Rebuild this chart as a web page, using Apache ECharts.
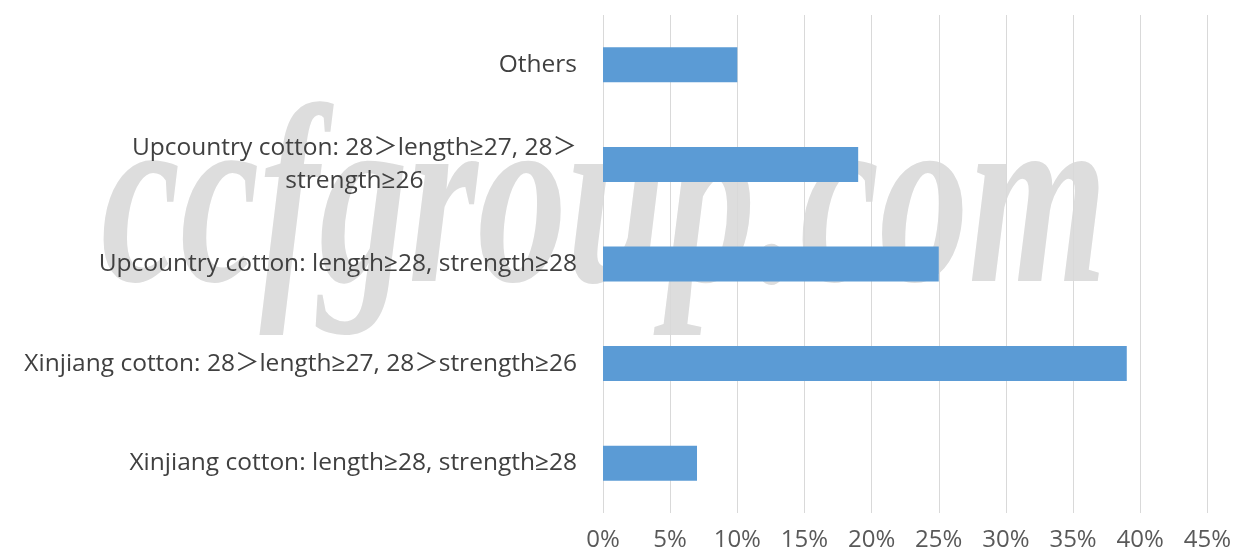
<!DOCTYPE html>
<html><head><meta charset="utf-8">
<script src="https://cdn.jsdelivr.net/npm/echarts@6/dist/echarts.min.js"></script>
<style>html,body{margin:0;padding:0;background:#fff}#c{width:1234px;height:554px}</style>
</head><body><div id="c"></div>
<script>
const categories = [
  "Xinjiang cotton: length≥28, strength≥28",
  "Xinjiang cotton: 28＞length≥27, 28＞strength≥26",
  "Upcountry cotton: length≥28, strength≥28",
  "Upcountry cotton: 28＞length≥27, 28＞\nstrength≥26",
  "Others"
];
const shares = [7, 39, 25, 19, 10];
const tickMax = 45;
const tickStep = 5;

const FONT = "'Open Sans', 'Noto Sans CJK SC', sans-serif";
const chart = echarts.init(document.getElementById('c'));
chart.setOption({
  animation: false,
  backgroundColor: '#fff',
  grid: { left: 603, right: 24, top: 15, bottom: 41, containLabel: false },
  graphic: [{
    type: 'text', z: -10, silent: true,
    left: 101, top: 88, scaleX: 0.7,
    style: { text: 'ccfgroup.com', fontFamily: 'Liberation Serif', fontStyle: 'italic', fontWeight: 'bold', fontSize: 255, fill: '#dddddd' }
  }],
  xAxis: {
    type: 'value', min: 0, max: tickMax, interval: tickStep,
    axisLine: { show: false }, axisTick: { show: false },
    splitLine: { lineStyle: { color: '#d9d9d9', width: 1 } },
    axisLabel: { formatter: '{value}%', color: '#595959', fontFamily: FONT, fontSize: 24, margin: 15 }
  },
  yAxis: {
    type: 'category', data: categories,
    axisLine: { show: false }, axisTick: { show: false },
    axisLabel: {
      color: '#404040', fontFamily: FONT, fontSize: 24.5, margin: 26,
      formatter: v => v.split('\n').map(s => '{c|' + s + '}').join('\n'),
      rich: { c: { align: 'center', lineHeight: 33, fontFamily: FONT, fontSize: 24.5, color: '#404040' } }
    }
  },
  series: [{
    type: 'bar', data: shares, barWidth: 35,
    itemStyle: { color: '#5b9bd5' }
  }]
});
</script></body></html>
